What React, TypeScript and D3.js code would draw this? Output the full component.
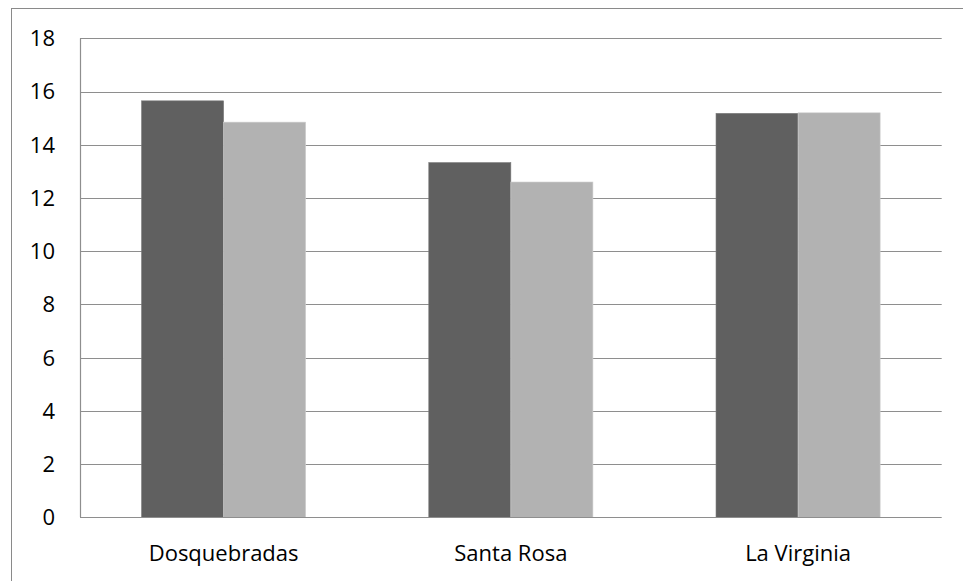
import { useEffect, useRef } from 'react'
import * as d3 from 'd3'

const categories = ['Dosquebradas', 'Santa Rosa', 'La Virginia']
const series1 = [15.65, 13.33, 15.18]
const series2 = [14.85, 12.6, 15.2]
const yTicks = [0, 2, 4, 6, 8, 10, 12, 14, 16, 18]
const seriesColors = ['#606060', '#b2b2b2']

const App = () => {
  const ref = useRef<SVGSVGElement>(null)

  useEffect(() => {
    const svg = d3.select(ref.current)
    svg.selectAll('*').remove()

    const width = 963
    const height = 581
    const margin = { top: 38.3, right: 21.3, bottom: 63.7, left: 80 }
    const font = '"Open Sans", sans-serif'

    // outer chart frame, runs off the right and bottom edges
    svg
      .append('rect')
      .attr('x', 11.5)
      .attr('y', 8.5)
      .attr('width', 1200)
      .attr('height', 1200)
      .attr('fill', 'white')
      .attr('stroke', '#8a8a8a')

    const x = d3
      .scaleBand()
      .domain(categories)
      .range([margin.left, width - margin.right])

    const inner = d3
      .scaleBand()
      .domain(['a', 'b'])
      .range([0, x.bandwidth()])
      .paddingInner(0)
      .paddingOuter(0.75)

    const y = d3
      .scaleLinear()
      .domain([0, 18])
      .range([height - margin.bottom, margin.top])

    // gridlines
    svg
      .append('g')
      .selectAll('line')
      .data(yTicks.filter((t) => t > 0))
      .join('line')
      .attr('x1', margin.left)
      .attr('x2', width - margin.right)
      .attr('y1', (d) => Math.round(y(d)) + 0.5)
      .attr('y2', (d) => Math.round(y(d)) + 0.5)
      .attr('stroke', '#8e8e8e')
      .attr('stroke-width', 1.2)

    // bars
    const rows = categories.map((c, i) => ({ c, vals: [series1[i], series2[i]] }))
    const groups = svg
      .append('g')
      .selectAll('g')
      .data(rows)
      .join('g')
      .attr('transform', (d) => `translate(${x(d.c)},0)`)

    groups
      .selectAll('rect')
      .data((d) => d.vals.map((v, j) => ({ v, j })))
      .join('rect')
      .attr('x', (d) => inner(d.j === 0 ? 'a' : 'b')!)
      .attr('width', inner.bandwidth())
      .attr('y', (d) => y(d.v))
      .attr('height', (d) => y(0) - y(d.v))
      .attr('fill', (d) => seriesColors[d.j])
      .attr('stroke', (d) => (d.j === 0 ? '#7a7a7a' : '#cfcfcf'))
      .attr('stroke-width', 0.6)

    // axes lines
    svg
      .append('line')
      .attr('x1', margin.left + 0.5)
      .attr('x2', margin.left + 0.5)
      .attr('y1', margin.top)
      .attr('y2', y(0))
      .attr('stroke', '#8e8e8e')
      .attr('stroke-width', 1.2)
    svg
      .append('line')
      .attr('x1', margin.left)
      .attr('x2', width - margin.right)
      .attr('y1', Math.round(y(0)) + 0.5)
      .attr('y2', Math.round(y(0)) + 0.5)
      .attr('stroke', '#8e8e8e')
      .attr('stroke-width', 1.2)

    // y labels
    svg
      .append('g')
      .selectAll('text')
      .data(yTicks)
      .join('text')
      .attr('x', 55)
      .attr('y', (d) => y(d))
      .attr('dy', '0.36em')
      .attr('text-anchor', 'end')
      .attr('font-family', font)
      .attr('font-size', 22)
      .attr('fill', '#000')
      .text((d) => d)

    // x labels
    svg
      .append('g')
      .selectAll('text')
      .data(categories)
      .join('text')
      .attr('x', (d) => x(d)! + x.bandwidth() / 2)
      .attr('y', 561)
      .attr('text-anchor', 'middle')
      .attr('font-family', font)
      .attr('font-size', 22)
      .attr('fill', '#000')
      .text((d) => d)
  }, [])

  return (
    <svg
      ref={ref}
      width={963}
      height={581}
      style={{ position: 'absolute', left: 0, top: 0, background: 'white' }}
    />
  )
}

export default App
